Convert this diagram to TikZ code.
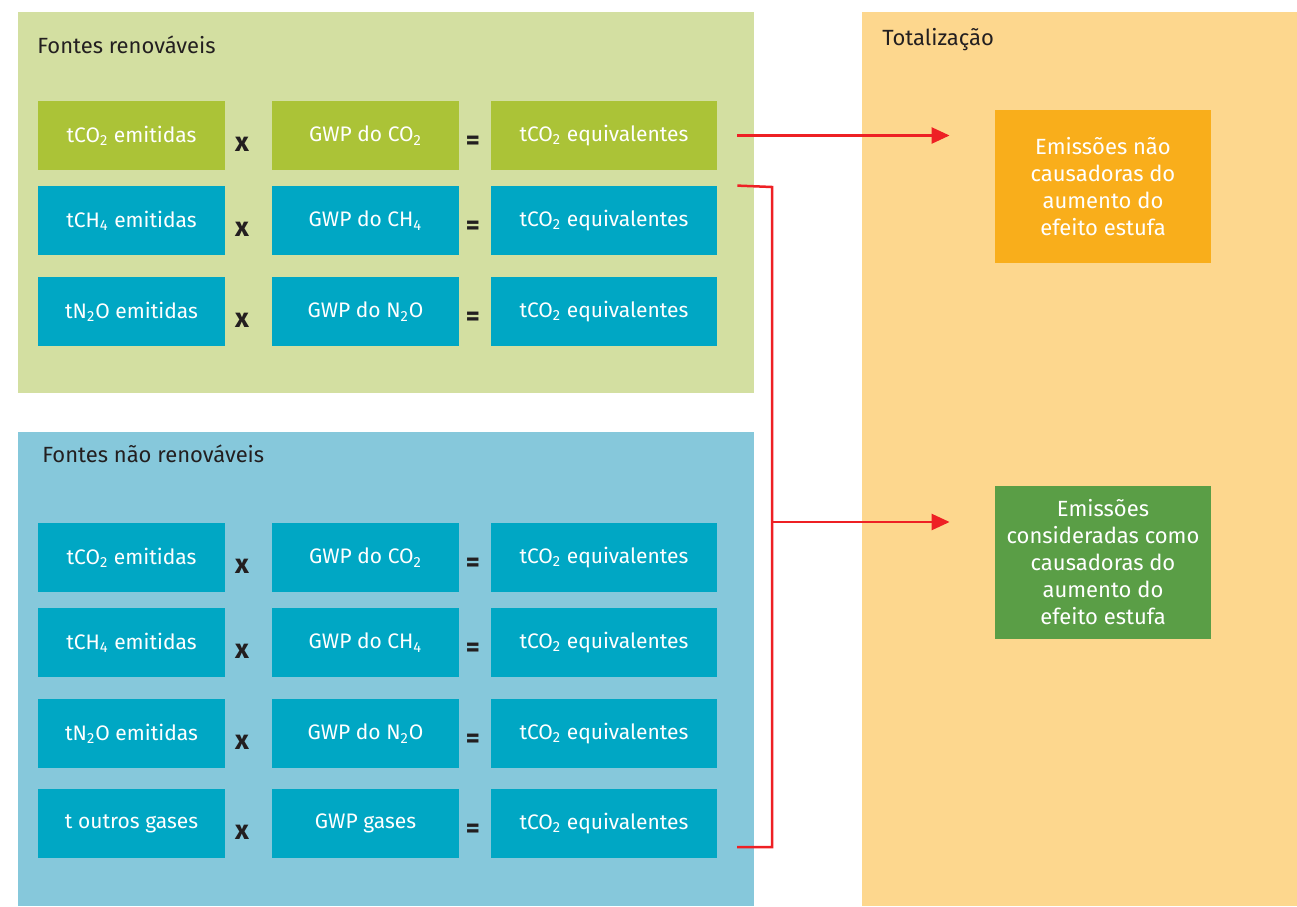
\documentclass[tikz,border=0pt]{standalone}
\usepackage{fontspec}
\setmainfont{Fira Sans}
\usepackage{tikz}
\usetikzlibrary{arrows.meta}

\definecolor{panelgreen}{HTML}{D3DFA1}
\definecolor{panelblue}{HTML}{86C8DB}
\definecolor{panelorange}{HTML}{FDD78E}
\definecolor{cellteal}{HTML}{00A7C4}
\definecolor{celllime}{HTML}{ABC337}
\definecolor{boxorange}{HTML}{F9AE1B}
\definecolor{boxgreen}{HTML}{5A9E46}
\definecolor{flowred}{HTML}{EE2024}
\definecolor{ink}{HTML}{231F20}

\tikzset{
  cell/.style={fill=cellteal, text=white, inner sep=0pt, minimum height=34.5pt,
    font=\fontsize{10.5}{12}\selectfont},
  narrow/.style={cell, minimum width=93.5pt},
  wide/.style={cell, minimum width=113pt},
  lime/.style={fill=celllime},
  op/.style={text=ink, font=\fontsize{13.5}{13.5}\selectfont\bfseries},
  title/.style={text=ink, anchor=west, inner sep=0pt, font=\fontsize{11}{13}\selectfont},
  result/.style={text=white, align=center, inner sep=0pt, minimum width=108pt,
    minimum height=76.5pt, font=\fontsize{11}{13.5}\selectfont},
  flow/.style={draw=flowred, line width=1.25pt},
  tip/.style={-{Triangle[length=9pt, width=8pt]}}
}

\newcommand{\tco}{tCO\textsubscript{2}}

\begin{document}
\begin{tikzpicture}[x=0.5pt, y=-0.5pt]
  \useasboundingbox (0,0) rectangle (1297,906);
  % background panels
  \fill[panelgreen] (18,12) rectangle (754,393);
  \fill[panelblue] (18,432) rectangle (754,906);
  \fill[panelorange] (862,12) rectangle (1297,906);
  \node[title] (tren) at (37,45) {Fontes renováveis};
  \node[title] (tnren) at (42,454) {Fontes não renováveis};
  \node[title] (ttot) at (882,40) {Totalização};

  % renewable rows
  \node[narrow, lime] (ra1) at (131.5,135.5) {\tco{} emitidas};
  \node[narrow, lime] (rb1) at (365.5,135.5) {GWP do CO\textsubscript{2}};
  \node[wide, lime] (rc1) at (604,135.5) {\tco{} equivalentes};
  \node[narrow] (ra2) at (131.5,220.5) {tCH\textsubscript{4} emitidas};
  \node[narrow] (rb2) at (365.5,220.5) {GWP do CH\textsubscript{4}};
  \node[wide] (rc2) at (604,220.5) {\tco{} equivalentes};
  \node[narrow] (ra3) at (131.5,311.5) {tN\textsubscript{2}O emitidas};
  \node[narrow] (rb3) at (365.5,311.5) {GWP do N\textsubscript{2}O};
  \node[wide] (rc3) at (604,311.5) {\tco{} equivalentes};
  \foreach \i/\y in {1/135.5, 2/220.5, 3/311.5} {
    \node[op] (rx\i) at (242,\y+9) {x};
    \node[op] (rq\i) at (473,\y+7) {=};
  }

  % non-renewable rows
  \foreach \i/\y/\a/\b in {
      1/557.5/{\tco{} emitidas}/{GWP do CO\textsubscript{2}},
      2/642.5/{tCH\textsubscript{4} emitidas}/{GWP do CH\textsubscript{4}},
      3/733.5/{tN\textsubscript{2}O emitidas}/{GWP do N\textsubscript{2}O},
      4/823.5/{t outros gases}/{GWP gases}} {
    \node[narrow] (na\i) at (131.5,\y) {\a};
    \node[narrow] (nb\i) at (365.5,\y) {\b};
    \node[wide] (nc\i) at (604,\y) {\tco{} equivalentes};
    \node[op] (nx\i) at (242,\y+9) {x};
    \node[op] (nq\i) at (473,\y+7) {=};
  }

  % totals
  \node[result, fill=boxorange] (naocaus) at (1103,186.5)
    {Emissões não\\causadoras do\\aumento do\\efeito estufa};
  \node[result, fill=boxgreen] (caus) at (1103,562.5)
    {Emissões\\consideradas como\\causadoras do\\aumento do\\efeito estufa};

  % connectors
  \coordinate (btop) at (772,187);
  \coordinate (bbot) at (772,847);
  \coordinate (bmid) at (772,522);
  \draw[flow, tip, shorten <=10pt, shorten >=22.5pt] (rc1.east) -- (rc1 -| naocaus.west);
  \draw[flow] (rc2.north east) ++(10pt,0) -- (btop) -- (bbot) -- ++(-17.5pt,0);
  \draw[flow, tip, shorten >=22.5pt] (bmid) -- (bmid -| caus.west);
\end{tikzpicture}
\end{document}
